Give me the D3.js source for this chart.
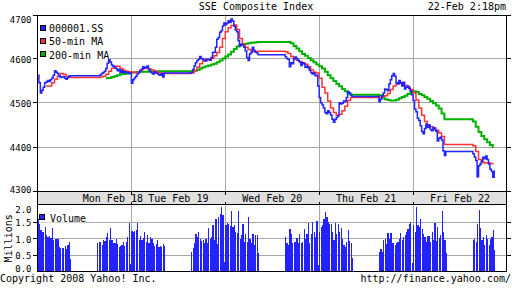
<!DOCTYPE html>
<html>
<head>
<meta charset="utf-8">
<script src="https://cdnjs.cloudflare.com/ajax/libs/d3/7.8.5/d3.min.js"></script>
<style>
body { margin:0; background:#fff; }
svg { display:block; }
.mono { font-family:"DejaVu Sans Mono","Liberation Mono",monospace; font-size:10px; fill:#000; }
.axl { font-family:"DejaVu Sans Mono","Liberation Mono",monospace; font-size:9px; fill:#000; }
</style>
</head>
<body>
<div id="chart"></div>
<script>
// chart minutes: each day = morning 120 + lunch 90 + afternoon 120 (overnight dropped)
var sessionStart = [0, 210, 330, 540, 660, 870, 990, 1200, 1320, 1530];
var dayBreaks = [330, 660, 990, 1320];
var dayLabels = ["Mon Feb 18", "Tue Feb 19", "Wed Feb 20", "Thu Feb 21", "Fri Feb 22"];
var dayLabelAt = [265, 495, 825, 1155, 1485];
var priceTicks = [4300, 4400, 4500, 4600, 4700];
var volTicks = [0, 0.5, 1.0, 1.5, 2.0];

// 000001.SS, 5-minute points per session
var price = [
 [4562,4545,4522,4528,4535,4545,4547,4550,4548,4552,4556,4562,4572,4569,4566,4560,4557,4558,4559,4555,4553,4557,4560,4561],
 [4561,4561,4563,4566,4568,4571,4577,4589,4597,4592,4585,4582,4580,4577,4572,4575,4568,4573,4568,4570,4568,4569,4566,4567],
 [4544,4552,4556,4560,4565,4568,4572,4576,4581,4578,4580,4583,4575,4570,4567,4565,4570,4567,4566,4563,4562,4566,4558,4567],
 [4568,4575,4583,4590,4595,4598,4604,4600,4598,4596,4594,4598,4597,4596,4602,4613,4614,4625,4643,4647,4659,4662,4673,4680],
 [4676,4680,4685,4681,4689,4684,4673,4664,4660,4640,4628,4632,4630,4625,4617,4602,4595,4610,4613,4625,4618,4614,4612,4608],
 [4604,4600,4598,4581,4590,4588,4600,4603,4600,4595,4592,4584,4590,4588,4580,4582,4579,4573,4568,4565,4567,4561,4562,4538],
 [4512,4500,4495,4488,4478,4475,4482,4478,4472,4463,4456,4462,4467,4470,4500,4497,4499,4504,4502,4512,4525,4522,4518,4514],
 [4502,4508,4516,4522,4531,4530,4527,4542,4552,4561,4566,4560,4545,4542,4550,4544,4538,4546,4531,4535,4538,4532,4527,4518],
 [4505,4486,4480,4465,4460,4448,4435,4430,4442,4452,4444,4450,4440,4437,4444,4440,4436,4414,4420,4422,4416,4392,4381,4390],
 [4385,4378,4370,4333,4358,4362,4368,4377,4374,4380,4372,4362,4350,4345,4332,4348]
];

// 50-min MA, 10-minute points
var ma50 = [
 [null,null,null,4538,4538,4545,4553,4560,4566,4564,4560,4557],
 [4557,4558,4560,4564,4571,4578,4582,4582,4577,4573,4571,4570],
 [4569,4568,4570,4574,4577,4578,4576,4574,4571,4569,4567,4566],
 [4567,4572,4580,4588,4594,4598,4598,4600,4606,4613,4625,4645],
 [4660,4669,4674,4675,4665,4645,4632,4625,4620,4617,4616,4616],
 [4615,4611,4604,4598,4596,4593,4590,4587,4581,4574,4569,4567],
 [4555,4535,4522,4504,4488,4478,4472,4474,4482,4492,4505,4512],
 [4513,4514,4516,4521,4530,4538,4543,4546,4545,4539,4535,4530],
 [4522,4506,4488,4472,4458,4449,4446,4443,4438,4432,4424,4406],
 [4403,4390,4372,4366,4364,4365,4363,4361]
];

// 200-min MA, 10-minute points
var ma200 = [
 [null,null,null,null,null,null,null,null,null,null,null,null],
 [null,null,null,4555,4556,4558,4560,4562,4564,4565,4566,4567],
 [4568,4569,4569,4570,4570,4570,4571,4571,4571,4571,4571,4571],
 [4571,4572,4574,4577,4580,4582,4584,4586,4588,4591,4595,4600],
 [4604,4609,4615,4621,4627,4630,4632,4633,4634,4635,4636,4637],
 [4637,4637,4634,4628,4622,4616,4610,4606,4601,4596,4591,4586],
 [4582,4577,4570,4562,4555,4549,4543,4537,4531,4526,4521,4518],
 [4517,4512,4508,4506,4505,4505,4507,4510,4513,4516,4520,4524],
 [4526,4524,4520,4517,4513,4509,4504,4499,4494,4487,4476,4463],
 [4458,4446,4434,4425,4418,4411,4405,4398]
];

// volume (millions), 5-minute bars
var volume = [
 [1.58,1.45,1.25,1.2,1.2,1.35,1.12,1.05,1.08,1.02,1.33,0.95,1.0,0.97,0.98,0.75,0.72,0.7,0.72,0.78,0.68,0.8,0.88,0.38],
 [0.85,0.88,0.9,0.8,0.95,0.93,1.05,1.18,0.95,1.33,0.95,0.87,0.85,0.97,0.83,0.75,0.77,0.8,0.88,0.78,0.9,1.05,1.48,0.22],
 [1.23,1.2,1.22,1.25,1.48,0.95,1.08,0.95,1.03,1.2,0.9,1.1,0.85,1.05,0.97,0.85,0.77,0.83,0.95,0.75,0.78,0.73,0.83,0.78],
 [0.6,0.7,0.85,1.15,1.05,1.2,1.0,0.93,0.95,0.85,1.0,0.85,1.33,1.0,1.05,1.4,0.95,1.6,0.83,1.65,1.75,1.95,1.7,0.3],
 [1.4,1.47,1.45,1.38,1.83,1.35,1.4,1.2,1.17,1.83,1.0,1.1,1.45,0.9,1.15,0.9,1.65,1.0,0.87,1.15,0.8,1.1,1.1,0.55],
 [1.05,0.87,0.8,1.28,1.13,0.85,0.88,0.88,1.03,0.87,1.15,0.87,0.9,1.28,1.0,1.13,1.48,0.87,1.15,1.5,1.2,1.05,1.52,0.2],
 [1.2,1.35,1.4,1.6,1.8,1.65,1.5,1.45,1.45,1.2,0.95,1.48,1.15,1.45,1.2,1.33,1.0,0.8,0.75,0.9,1.27,0.93,0.85,0.4],
 [0.6,0.67,0.6,0.95,0.97,0.83,1.18,0.97,1.17,0.85,0.85,0.8,0.85,0.9,0.98,1.17,0.95,1.05,1.1,1.2,1.3,1.45,1.5,0.27],
 [1.4,1.2,1.95,1.4,1.35,1.6,1.3,1.15,1.05,0.9,1.07,1.07,0.9,1.2,0.95,1.47,0.93,1.35,1.03,1.1,1.83,1.2,0.95,0.57],
 [0.95,1.0,0.88,1.45,1.85,1.33,0.95,1.05,0.8,1.1,1.0,0.8,1.0,1.05,1.27,0.65]
];

var W = 512, H = 288;
var blue = "#2323ff", red = "#ff3333", green = "#00b000", grid = "#a8a8a8";

function flat(sessions, step){
  var out = [];
  sessions.forEach(function(vals, s){
    vals.forEach(function(v, i){ out.push({t: sessionStart[s] + i*step, v: v}); });
  });
  return out;
}
function px(v){ return Math.round(v - 0.5) + 0.5; }

var x = d3.scaleLinear().domain([0, 1650]).range([37.5, 507]);
var y = d3.scaleLinear().domain([4300, 4700]).range([191.5, 14]);
var yv = d3.scaleLinear().domain([0, 2]).range([271.5, 205.5]);

var svg = d3.select("#chart").insert("svg").attr("width", W).attr("height", H);

// titles
svg.append("text").attr("class","mono").attr("x", 256).attr("y", 10).attr("text-anchor","middle").text("SSE Composite Index");
svg.append("text").attr("class","mono").attr("x", 506).attr("y", 10).attr("text-anchor","end").text("22-Feb 2:18pm");

// ---- price panel ----
var pricePanel = svg.append("g");
pricePanel.selectAll("line.hg").data(priceTicks.filter(function(d){ return d > 4300 && d < 4700; })).enter()
  .append("line").attr("class","hg").attr("x1", 37.5).attr("x2", 506.5)
  .attr("y1", function(d){ return px(y(d)); }).attr("y2", function(d){ return px(y(d)); })
  .attr("stroke", grid).attr("shape-rendering","crispEdges");
pricePanel.selectAll("line.vg").data(dayBreaks).enter().append("line").attr("class","vg")
  .attr("x1", function(d){ return px(x(d)); }).attr("x2", function(d){ return px(x(d)); })
  .attr("y1", 15.5).attr("y2", 191.5).attr("stroke", grid).attr("shape-rendering","crispEdges");

// legend background hides grid
pricePanel.append("rect").attr("x", 38).attr("y", 16).attr("width", 72).attr("height", 43.5).attr("fill","#fff");

var line = d3.line().defined(function(d){ return d.v != null; })
  .x(function(d){ return x(d.t); }).y(function(d){ return y(d.v); })
  .curve(d3.curveStepAfter);

pricePanel.append("path").datum(flat(ma200, 10)).attr("d", line).attr("fill","none").attr("stroke", green).attr("stroke-width", 2);
pricePanel.append("path").datum(flat(ma50, 10)).attr("d", line).attr("fill","none").attr("stroke", red).attr("stroke-width", 1.5);
pricePanel.append("path").datum(flat(price, 5)).attr("d", line).attr("fill","none").attr("stroke", blue).attr("stroke-width", 1.5);

pricePanel.append("rect").attr("x", 37.5).attr("y", 15.5).attr("width", 469).attr("height", 176)
  .attr("fill","none").attr("stroke","#000").attr("shape-rendering","crispEdges");

var legend = [["000001.SS", blue], ["50-min MA", red], ["200-min MA", green]];
legend.forEach(function(d, i){
  var by = 32.3 + i*13.1;
  pricePanel.append("rect").attr("x", 40.5).attr("y", Math.round(by - 7.3) + 0.5).attr("width", 5).attr("height", 5)
    .attr("fill", d[1]).attr("stroke","#000").attr("shape-rendering","crispEdges");
  pricePanel.append("text").attr("class","mono").attr("x", 49).attr("y", by).text(d[0]);
});

priceTicks.forEach(function(v){
  var ty = Math.max(px(y(v)), 15.5);
  svg.append("line").attr("x1", 33).attr("x2", 37.5).attr("y1", ty).attr("y2", ty).attr("stroke","#000").attr("shape-rendering","crispEdges");
  svg.append("line").attr("x1", 506.5).attr("x2", 511).attr("y1", ty).attr("y2", ty).attr("stroke","#000").attr("shape-rendering","crispEdges");
  var cy = Math.min(Math.max(y(v) + 1, 20), 189.5);
  svg.append("text").attr("class","axl").attr("x", 31.5).attr("y", cy + 3.3).attr("text-anchor","end").text(v);
});

// ---- date band ----
svg.append("rect").attr("x", 37.5).attr("y", 191.5).attr("width", 469).attr("height", 13)
  .attr("fill","#e0e0e0").attr("stroke","#000").attr("shape-rendering","crispEdges");
dayBreaks.forEach(function(t){
  var bx = px(x(t));
  svg.append("line").attr("x1", bx).attr("x2", bx).attr("y1", 191.5).attr("y2", 194.5).attr("stroke","#000").attr("shape-rendering","crispEdges");
  svg.append("line").attr("x1", bx).attr("x2", bx).attr("y1", 201.5).attr("y2", 204.5).attr("stroke","#000").attr("shape-rendering","crispEdges");
});
dayLabels.forEach(function(d, i){
  svg.append("text").attr("class","mono").attr("x", x(dayLabelAt[i])).attr("y", 202).attr("text-anchor","middle").text(d);
});

// ---- volume panel ----
var volPanel = svg.append("g");
volPanel.selectAll("line.hg").data(volTicks.filter(function(d){ return d > 0 && d < 2; })).enter()
  .append("line").attr("class","hg").attr("x1", 37.5).attr("x2", 506.5)
  .attr("y1", function(d){ return px(yv(d)); }).attr("y2", function(d){ return px(yv(d)); })
  .attr("stroke", grid).attr("shape-rendering","crispEdges");
volPanel.selectAll("line.vg").data(dayBreaks).enter().append("line").attr("class","vg")
  .attr("x1", function(d){ return px(x(d)); }).attr("x2", function(d){ return px(x(d)); })
  .attr("y1", 204.5).attr("y2", 271.5).attr("stroke", grid).attr("shape-rendering","crispEdges");

volPanel.append("rect").attr("x", 38).attr("y", 205).attr("width", 48).attr("height", 17.5).attr("fill","#fff");

volPanel.selectAll("rect.bar").data(flat(volume, 5)).enter().append("rect").attr("class","bar")
  .attr("x", function(d){ return x(d.t); }).attr("width", 1.2)
  .attr("y", function(d){ return yv(d.v); }).attr("height", function(d){ return yv(0) - yv(d.v); })
  .attr("fill", blue).attr("shape-rendering","crispEdges");

volPanel.append("rect").attr("x", 37.5).attr("y", 204.5).attr("width", 469).attr("height", 67)
  .attr("fill","none").attr("stroke","#000").attr("shape-rendering","crispEdges");
volPanel.append("rect").attr("x", 39.5).attr("y", 214.5).attr("width", 5).attr("height", 5)
  .attr("fill", blue).attr("stroke","#000").attr("shape-rendering","crispEdges");
volPanel.append("text").attr("class","mono").attr("x", 50).attr("y", 222).text("Volume");

volTicks.forEach(function(v){
  var ty = px(yv(v));
  if (v > 0 && v < 2) {
    svg.append("line").attr("x1", 33).attr("x2", 37.5).attr("y1", ty).attr("y2", ty).attr("stroke","#000").attr("shape-rendering","crispEdges");
    svg.append("line").attr("x1", 506.5).attr("x2", 511).attr("y1", ty).attr("y2", ty).attr("stroke","#000").attr("shape-rendering","crispEdges");
  }
  var cy = Math.min(Math.max(yv(v) + 0.7, 210), 269);
  svg.append("text").attr("class","axl").attr("x", 31.5).attr("y", cy + 3.3).attr("text-anchor","end").text(v.toFixed(1));
});
svg.append("text").attr("class","mono").attr("transform","translate(11.5,238.3) rotate(-90)").attr("text-anchor","middle").text("Millions");

// footer
svg.append("text").attr("class","mono").attr("x", 0).attr("y", 282).text("Copyright 2008 Yahoo! Inc.");
svg.append("text").attr("class","mono").attr("x", 511).attr("y", 282).attr("text-anchor","end").text("http://finance.yahoo.com/");
</script>
</body>
</html>
